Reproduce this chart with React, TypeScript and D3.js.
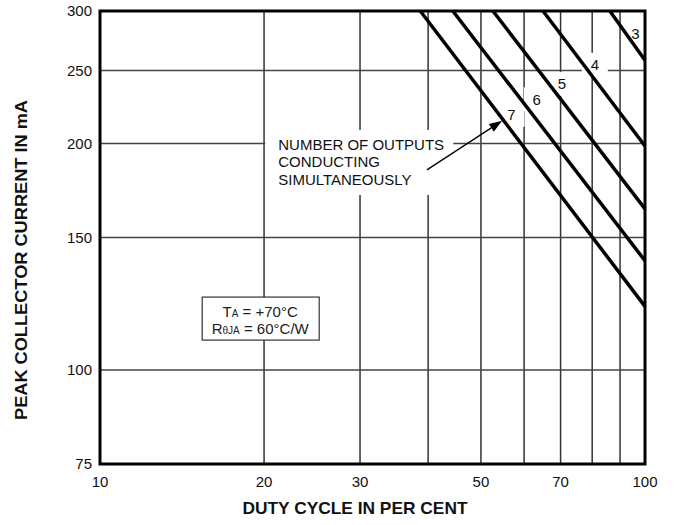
import React from 'react';
import * as d3 from 'd3';

// Duty cycle (%) where each curve leaves the 300 mA top edge,
// and the current (mA) where it meets the 100 % right edge.
const outputs = [3, 4, 5, 6, 7];
const startDuty = [86.2, 65.0, 52.6, 44.4, 38.7];
const endCurrent = [258, 198.5, 163.7, 139.7, 121.5];

// curve label anchors, data units
const labelDuty = [96, 80.9, 70.4, 63.3, 56.9];
const labelCurrent = [280, 254.5, 240, 229, 218.4];

const xTickLabels = [10, 20, 30, 50, 70, 100];
const xGrid = [20, 30, 40, 50, 60, 70, 80, 90];
const yTickLabels = [75, 100, 150, 200, 250, 300];
const yGrid = [100, 150, 200, 250];

const noteLines = ['NUMBER OF OUTPUTS', 'CONDUCTING', 'SIMULTANEOUSLY'];
const noteAnchor = [20.1, 208.5]; // top-left of the note's white area
const arrowFrom = [39.8, 184.5];
const arrowTo = [54.7, 214.4];
const condAnchor = [15.4, 125]; // top-left of the conditions box

const W = 674;
const H = 525;
const FONT = '"Liberation Sans", Arial, Helvetica, sans-serif';

export default function App() {
  const x = d3.scaleLog().domain([10, 100]).range([100, 645]);
  const y = d3.scaleLog().domain([75, 300]).range([464, 11]);

  const line = d3
    .line<[number, number]>()
    .x((d) => x(d[0]))
    .y((d) => y(d[1]));

  const [x0, x1] = x.range();
  const [y0, y1] = y.range();

  const nx = x(noteAnchor[0]);
  const ny = y(noteAnchor[1]);
  const cx = x(condAnchor[0]);
  const cy = y(condAnchor[1]);

  const ax1 = x(arrowFrom[0]);
  const ay1 = y(arrowFrom[1]);
  const ax2 = x(arrowTo[0]);
  const ay2 = y(arrowTo[1]);
  const ang = Math.atan2(ay2 - ay1, ax2 - ax1);
  const headLen = 13;
  const headW = 4.5;
  const bx = ax2 - headLen * Math.cos(ang);
  const by = ay2 - headLen * Math.sin(ang);
  const head = [
    [ax2, ay2],
    [bx + headW * Math.sin(ang), by - headW * Math.cos(ang)],
    [bx - headW * Math.sin(ang), by + headW * Math.cos(ang)],
  ]
    .map((p) => p.join(','))
    .join(' ');

  return (
    <div style={{ position: 'absolute', left: 0, top: 0 }}>
      <svg width={W} height={H} style={{ display: 'block', background: '#fff' }} fontFamily={FONT}>
        {/* grid */}
        {xGrid.map((v) => (
          <line key={'gx' + v} x1={x(v)} x2={x(v)} y1={y0} y2={y1} stroke="#333" strokeWidth={1.5} />
        ))}
        {yGrid.map((v) => (
          <line key={'gy' + v} x1={x0} x2={x1} y1={y(v)} y2={y(v)} stroke="#444" strokeWidth={1.5} />
        ))}

        {/* white areas behind annotations */}
        <rect x={nx} y={ny} width={188} height={65} fill="#fff" />
        {outputs.map((n, i) => (
          <rect
            key={'lb' + n}
            x={x(labelDuty[i]) - 13}
            y={y(labelCurrent[i]) - 12}
            width={26}
            height={24}
            fill="#fff"
          />
        ))}
        <rect x={cx} y={cy} width={117} height={43} fill="#fff" stroke="#333" strokeWidth={1.2} />

        {/* curves */}
        {outputs.map((n, i) => (
          <path
            key={'c' + n}
            d={line([
              [startDuty[i], 300],
              [100, endCurrent[i]],
            ]) || ''}
            fill="none"
            stroke="#000"
            strokeWidth={3.5}
          />
        ))}

        {/* curve labels */}
        {outputs.map((n, i) => (
          <text
            key={'t' + n}
            x={x(labelDuty[i])}
            y={y(labelCurrent[i])}
            dy="0.36em"
            textAnchor="middle"
            fontSize={15}
            fill="#111"
          >
            {n}
          </text>
        ))}

        {/* frame */}
        <rect x={x0} y={y1} width={x1 - x0} height={y0 - y1} fill="none" stroke="#000" strokeWidth={3} />

        {/* note + arrow */}
        {noteLines.map((t, i) => (
          <text key={'n' + i} x={nx + 13} y={ny + 20 + i * 17.5} fontSize={15} fill="#111">
            {t}
          </text>
        ))}
        <line x1={ax1} y1={ay1} x2={bx} y2={by} stroke="#000" strokeWidth={1.3} />
        <polygon points={head} fill="#000" />

        {/* conditions */}
        <text x={cx + 58} y={cy + 20} textAnchor="middle" fontSize={15} fill="#222">
          T<tspan fontSize={10}>A</tspan> = +70°C
        </text>
        <text x={cx + 58} y={cy + 37} textAnchor="middle" fontSize={15} fill="#222">
          R<tspan fontSize={10}>θJA</tspan> = 60°C/W
        </text>

        {/* tick labels */}
        {yTickLabels.map((v) => (
          <text key={'yl' + v} x={x0 - 8} y={y(v)} dy="0.36em" textAnchor="end" fontSize={15} fill="#111">
            {v}
          </text>
        ))}
        {xTickLabels.map((v) => (
          <text key={'xl' + v} x={x(v)} y={y0 + 23} textAnchor="middle" fontSize={15} fill="#111">
            {v}
          </text>
        ))}

        {/* axis titles */}
        <text
          x={355}
          y={514}
          textAnchor="middle"
          fontSize={17}
          fontWeight="bold"
          fill="#111"
          textLength={225}
          lengthAdjust="spacingAndGlyphs"
        >
          DUTY CYCLE IN PER CENT
        </text>
        <text
          transform="translate(27,260) rotate(-90)"
          textAnchor="middle"
          fontSize={17}
          fontWeight="bold"
          fill="#111"
          textLength={320}
          lengthAdjust="spacingAndGlyphs"
        >
          PEAK COLLECTOR CURRENT IN mA
        </text>
      </svg>
    </div>
  );
}
